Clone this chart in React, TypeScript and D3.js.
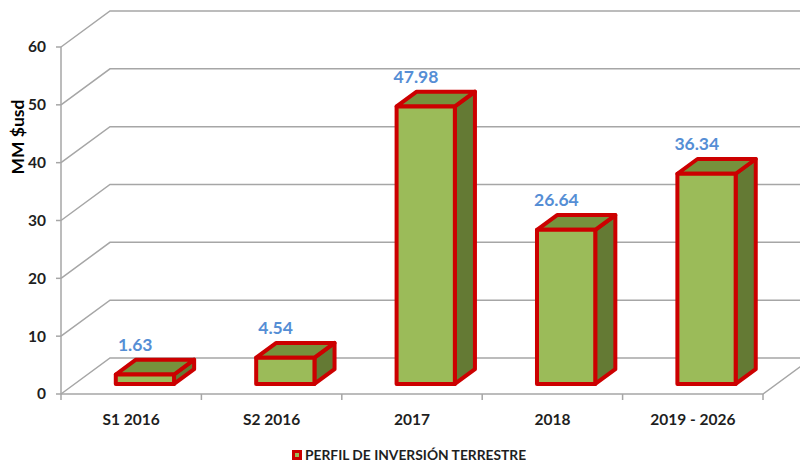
import React from 'react';
import * as d3 from 'd3';

const categories = ['S1 2016', 'S2 2016', '2017', '2018', '2019 - 2026'];
const values = [1.63, 4.54, 47.98, 26.64, 36.34];
const yTicks = [0, 10, 20, 30, 40, 50, 60];
const seriesName = 'PERFIL DE INVERSIÓN TERRESTRE';
const yTitle = 'MM $usd';

const W = 800;
const H = 462;
const FONT = 'Lato, "Open Sans", sans-serif';

// front plane of the 3D box and the depth vector towards the back wall
const left = 61;
const right = 763;
const bottom = 394;
const top = 47;
const depth = { x: 49, y: -36 };
const barFront = 0.28;
const barBack = 0.69;

const App = () => {
  const x = d3.scaleBand<string>()
    .domain(categories)
    .range([left, right])
    .paddingInner(0.585)
    .paddingOuter(0.2925);

  const y = d3.scaleLinear().domain([0, 60]).range([bottom, top]);

  const step = x.step();
  const pt = (px: number, py: number, d: number) =>
    `${px + depth.x * d},${py + depth.y * d}`;

  const grid = '#A6A6A6';
  const red = '#CC0000';
  const ink = '#1f1f1f';

  return (
    <svg width={W} height={H} style={{ position: 'absolute', left: 0, top: 0, background: '#fff' }}>
      {/* side wall diagonals + back wall gridlines */}
      {yTicks.map(t => (
        <g key={t}>
          <polyline
            points={`${left},${y(t)} ${pt(left, y(t), 1)} ${W},${y(t) + depth.y}`}
            fill="none"
            stroke={grid}
            strokeWidth={1.5}
          />
          <line x1={left - 5} x2={left} y1={y(t)} y2={y(t)} stroke={grid} strokeWidth={1.5} />
          <text
            x={left - 15}
            y={y(t)}
            dy="0.35em"
            textAnchor="end"
            fontFamily={FONT}
            fontWeight="bold"
            fontSize={15.5}
            fill={ink}
          >
            {t}
          </text>
        </g>
      ))}

      {/* vertical axis */}
      <line x1={left} x2={left} y1={y(0)} y2={y(60)} stroke={grid} strokeWidth={1.5} />

      {/* floor front edge, right edge, category ticks */}
      <polyline
        points={`${left},${bottom} ${right},${bottom} ${pt(right, bottom, 1)}`}
        fill="none"
        stroke={grid}
        strokeWidth={1.5}
      />
      {d3.range(categories.length + 1).map(i => (
        <line
          key={i}
          x1={left + step * i}
          x2={left + step * i}
          y1={bottom}
          y2={bottom + 6}
          stroke={grid}
          strokeWidth={1.5}
        />
      ))}

      {/* bars */}
      {categories.map((c, i) => {
        const x0 = x(c)!;
        const x1 = x0 + x.bandwidth();
        const yt = y(values[i]);
        const yb = y(0);
        const front = [pt(x0, yt, barFront), pt(x1, yt, barFront), pt(x1, yb, barFront), pt(x0, yb, barFront)];
        const topFace = [pt(x0, yt, barFront), pt(x0, yt, barBack), pt(x1, yt, barBack), pt(x1, yt, barFront)];
        const side = [pt(x1, yt, barFront), pt(x1, yt, barBack), pt(x1, yb, barBack), pt(x1, yb, barFront)];
        return (
          <g key={c} stroke={red} strokeWidth={4} strokeLinejoin="round">
            <polygon points={side.join(' ')} fill="#647A34" />
            <polygon points={topFace.join(' ')} fill="#76923C" />
            <polygon points={front.join(' ')} fill="#9BBB59" />
          </g>
        );
      })}

      {/* data labels */}
      {categories.map((c, i) => (
        <text
          key={c}
          x={x(c)! + x.bandwidth() / 2 + 4}
          y={y(values[i]) - 40}
          dy="0.35em"
          textAnchor="middle"
          fontFamily={FONT}
          fontWeight="bold"
          fontSize={17.5}
          fill="#558ED5"
        >
          {values[i].toFixed(2)}
        </text>
      ))}

      {/* category labels */}
      {categories.map(c => (
        <text
          key={c}
          x={x(c)! + x.bandwidth() / 2}
          y={420}
          dy="0.35em"
          textAnchor="middle"
          fontFamily={FONT}
          fontWeight="bold"
          fontSize={15.5}
          fill={ink}
        >
          {c}
        </text>
      ))}

      {/* y axis title */}
      <text
        transform={`translate(18,137) rotate(-90)`}
        dy="0.35em"
        textAnchor="middle"
        fontFamily={FONT}
        fontWeight="bold"
        fontSize={17.5}
        fill="#000"
      >
        {yTitle}
      </text>

      {/* legend */}
      <g>
        <rect x={292} y={450} width={10} height={10} fill={red} />
        <rect x={295} y={453} width={4} height={4} fill="#9BBB59" />
        <text
          x={305}
          y={455}
          dy="0.35em"
          fontFamily={FONT}
          fontWeight="bold"
          fontSize={13.8}
          fill={ink}
        >
          {seriesName}
        </text>
      </g>
    </svg>
  );
};

export default App;
